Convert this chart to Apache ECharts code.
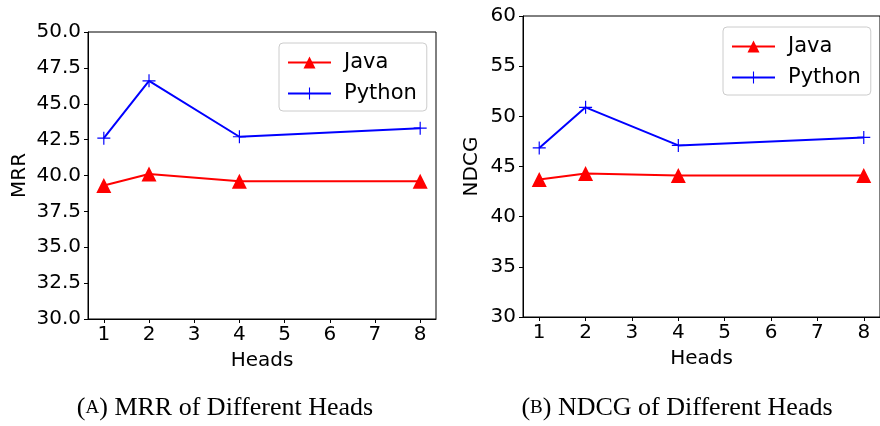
<!DOCTYPE html>
<html><head><meta charset="utf-8">
<script src="https://cdn.jsdelivr.net/npm/echarts@6/dist/echarts.min.js"></script>
<style>html,body{margin:0;padding:0;background:#fff}#c{width:880px;height:426px}</style>
</head><body><div id="c"></div>
<script>
const heads = [1, 2, 4, 8];
const xTicks = [1, 2, 3, 4, 5, 6, 7, 8];
const mrrJava = [39.3, 40.1, 39.6, 39.6];
const mrrPython = [42.6, 46.6, 42.7, 43.3];
const ndcgJava = [43.7, 44.3, 44.1, 44.1];
const ndcgPython = [46.85, 50.9, 47.1, 47.9];
const seriesNames = ['Java', 'Python'];

const FONT = 'DejaVu Sans';
const SERIF = 'Liberation Serif';
const FS = 20;
const plus = 'path://M-0.09,-1H0.09V-0.09H1V0.09H0.09V1H-0.09V0.09H-1V-0.09H-0.09Z';
const pair = (xs, ys) => xs.map((x, i) => [x, ys[i]]);

function xAxis(gi) {
  return {
    type: 'value', gridIndex: gi, min: 0.65, max: 8.35,
    name: 'Heads', nameLocation: 'middle', nameGap: 32,
    nameTextStyle: {fontFamily: FONT, fontSize: FS, color: '#000'},
    axisLine: {show: true, lineStyle: {color: '#000', width: 1}},
    axisTick: {show: true, length: 4, lineStyle: {color: '#000'}, customValues: xTicks},
    axisLabel: {fontFamily: FONT, fontSize: FS, color: '#000', margin: 6, customValues: xTicks},
    splitLine: {show: false}
  };
}
function yAxis(gi, min, max, interval, name, gap, dec) {
  return {
    type: 'value', gridIndex: gi, min: min, max: max, interval: interval,
    name: name, nameLocation: 'middle', nameGap: gap,
    nameTextStyle: {fontFamily: FONT, fontSize: FS, color: '#000'},
    axisLine: {show: true, lineStyle: {color: '#000', width: 1}},
    axisTick: {show: true, length: 4, lineStyle: {color: '#000'}},
    axisLabel: {fontFamily: FONT, fontSize: FS, color: '#000', margin: 7,
      formatter: v => v.toFixed(dec)},
    splitLine: {show: false}
  };
}
function lineSeries(name, gi, data, color, symbol, size) {
  return {
    name: name, type: 'line', xAxisIndex: gi, yAxisIndex: gi,
    data: data, symbol: symbol, symbolSize: size,
    lineStyle: {color: color, width: 2}, itemStyle: {color: color},
    showAllSymbol: true, animation: false, z: name === 'Java' ? 3 : 2
  };
}
function legend(left, top, width) {
  return {
    data: seriesNames, orient: 'vertical', left: left, top: top,
    itemWidth: 43, itemHeight: 15, itemGap: 10,
    padding: [9, 10, 7, 8], borderColor: '#ccc', borderWidth: 1, borderRadius: 4,
    backgroundColor: '#fff',
    textStyle: {fontFamily: FONT, fontSize: 21, color: '#000', padding: [0, 0, 0, 8]}
  };
}

const chart = echarts.init(document.getElementById('c'), null, {renderer: 'canvas'});
chart.setOption({
  animation: false,
  backgroundColor: '#fff',
  grid: [
    {left: 88, top: 32, width: 348, height: 287, show: true, borderColor: '#000', borderWidth: 1, backgroundColor: 'transparent'},
    {left: 523, top: 16, width: 364, height: 301, show: true, borderColor: '#000', borderWidth: 1, backgroundColor: 'transparent'}
  ],
  xAxis: [xAxis(0), xAxis(1)],
  yAxis: [yAxis(0, 30, 50, 2.5, 'MRR', 58, 1), yAxis(1, 30, 60, 5, 'NDCG', 41, 0)],
  legend: [legend(279, 43), legend(723, 27)],
  series: [
    lineSeries('Java', 0, pair(heads, mrrJava), '#ff0000', 'triangle', 15),
    lineSeries('Python', 0, pair(heads, mrrPython), '#0000ff', plus, 13),
    lineSeries('Java', 1, pair(heads, ndcgJava), '#ff0000', 'triangle', 15),
    lineSeries('Python', 1, pair(heads, ndcgPython), '#0000ff', plus, 13)
  ],
  graphic: [
    {type: 'text', x: 225, y: 408, style: {
      text: '{p|(}{s|A}{p|) MRR of Different Heads}', align: 'center', verticalAlign: 'middle',
      rich: {p: {fontFamily: SERIF, fontSize: 26, fill: '#000'}, s: {fontFamily: SERIF, fontSize: 19, fill: '#000'}}
    }},
    {type: 'text', x: 677, y: 408, style: {
      text: '{p|(}{s|B}{p|) NDCG of Different Heads}', align: 'center', verticalAlign: 'middle',
      rich: {p: {fontFamily: SERIF, fontSize: 26, fill: '#000'}, s: {fontFamily: SERIF, fontSize: 19, fill: '#000'}}
    }}
  ]
});
</script>
</body></html>
